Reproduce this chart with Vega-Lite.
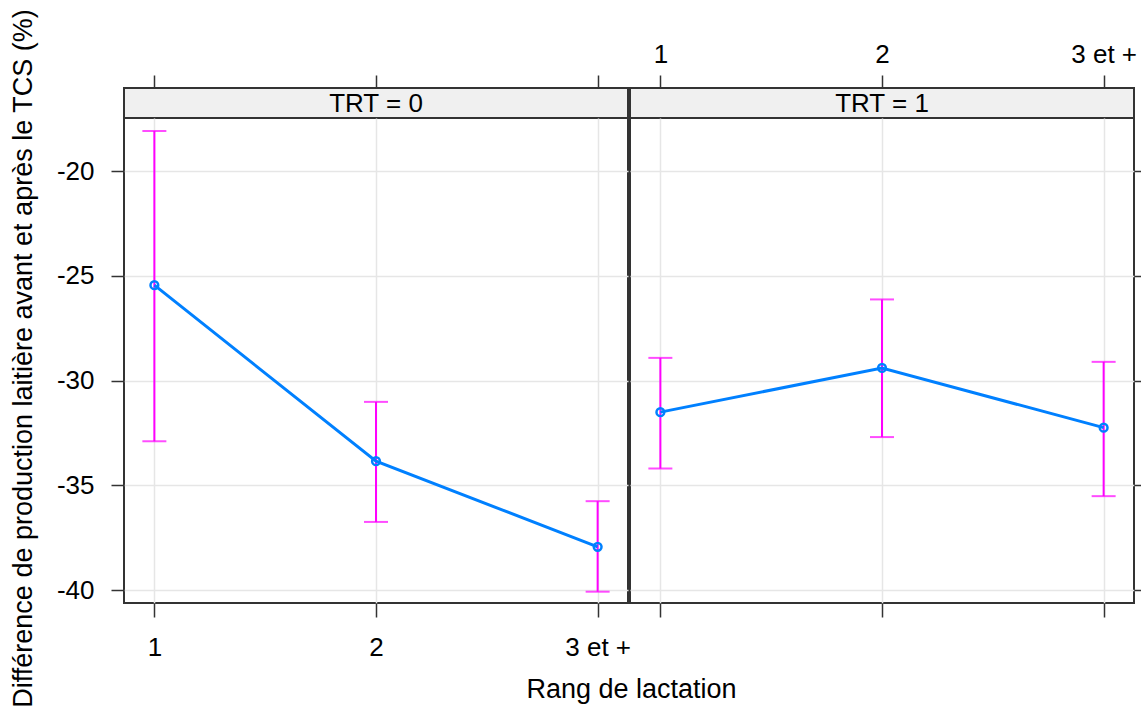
{
  "$schema": "https://vega.github.io/schema/vega-lite/v6.json",
  "background": "white",
  "padding": {"left": 8, "top": 7, "right": 0, "bottom": 0},
  "datasets": {
    "effets": [
      {"TRT": "0", "rang": "1", "fit": -25.45, "lower": -32.9, "upper": -18.09},
      {"TRT": "0", "rang": "2", "fit": -33.85, "lower": -36.75, "upper": -31.02},
      {"TRT": "0", "rang": "3 et +", "fit": -37.94, "lower": -40.08, "upper": -35.76},
      {"TRT": "1", "rang": "1", "fit": -31.51, "lower": -34.2, "upper": -28.92},
      {"TRT": "1", "rang": "2", "fit": -29.4, "lower": -32.7, "upper": -26.13},
      {"TRT": "1", "rang": "3 et +", "fit": -32.25, "lower": -35.52, "upper": -29.11}
    ],
    "strips": [
      {"TRT": "0", "label": "TRT = 0"},
      {"TRT": "1", "label": "TRT = 1"}
    ]
  },
  "config": {
    "font": "Liberation Sans",
    "view": {"stroke": null},
    "axis": {
      "labelFont": "Liberation Sans",
      "labelFontSize": 26,
      "labelColor": "#000000",
      "tickColor": "#333333",
      "tickWidth": 1.5,
      "gridColor": "#e6e6e6",
      "gridWidth": 1.5,
      "domain": false,
      "titleFont": "Liberation Sans",
      "titleFontSize": 27,
      "titleFontWeight": "normal",
      "titleColor": "#000000"
    }
  },
  "columns": 2,
  "spacing": {"row": 0, "column": 2},
  "bounds": "flush",
  "concat": [
    {
      "width": 504,
      "height": 30,
      "view": {"fill": "#f0f0f0", "stroke": "#333333", "strokeWidth": 2},
      "layer": [
        {
          "data": {"name": "strips"},
          "transform": [{"filter": "datum.TRT == '0'"}],
          "mark": {"type": "text", "fontSize": 26, "font": "Liberation Sans", "color": "#000000", "baseline": "middle", "dy": 1},
          "encoding": {"text": {"field": "label", "type": "nominal"}}
        },
        {
          "data": {"name": "effets"},
          "transform": [{"filter": "datum.TRT == '0'"}],
          "mark": {"type": "point", "opacity": 0},
          "encoding": {
            "x": {
              "field": "rang", "type": "ordinal",
              "scale": {"type": "point", "domain": ["1", "2", "3 et +"], "padding": 0.137},
              "axis": {"orient": "top", "labels": false, "title": null, "tickSize": 13, "grid": false}
            }
          }
        }
      ]
    },
    {
      "width": 504,
      "height": 30,
      "view": {"fill": "#f0f0f0", "stroke": "#333333", "strokeWidth": 2},
      "layer": [
        {
          "data": {"name": "strips"},
          "transform": [{"filter": "datum.TRT == '1'"}],
          "mark": {"type": "text", "fontSize": 26, "font": "Liberation Sans", "color": "#000000", "baseline": "middle", "dy": 1},
          "encoding": {"text": {"field": "label", "type": "nominal"}}
        },
        {
          "data": {"name": "effets"},
          "transform": [{"filter": "datum.TRT == '1'"}],
          "mark": {"type": "point", "opacity": 0},
          "encoding": {
            "x": {
              "field": "rang", "type": "ordinal",
              "scale": {"type": "point", "domain": ["1", "2", "3 et +"], "padding": 0.137},
              "axis": {"orient": "top", "labels": true, "labelAngle": 0, "labelPadding": 8, "title": null, "tickSize": 13, "grid": false}
            }
          }
        }
      ]
    },
    {
      "width": 504,
      "height": 485,
      "data": {"name": "effets"},
      "transform": [{"filter": "datum.TRT == '0'"}],
      "view": {"stroke": "#333333", "strokeWidth": 2},
      "encoding": {
        "x": {
          "field": "rang", "type": "ordinal",
          "scale": {"type": "point", "domain": ["1", "2", "3 et +"], "padding": 0.137},
          "axis": {"orient": "bottom", "labelAngle": 0, "tickSize": 14, "labelPadding": 17, "grid": true, "title": "Rang de lactation", "titleX": 507, "titlePadding": 16}
        }
      },
      "layer": [
        {
          "mark": {"type": "rule", "color": "#ff00ff", "strokeWidth": 2},
          "encoding": {
            "y": {
              "field": "lower", "type": "quantitative",
              "scale": {"domain": [-40.62, -17.47], "nice": false, "zero": false},
              "axis": {"orient": "left", "values": [-40, -35, -30, -25, -20], "labelExpr": "replace(datum.label, '\u2212', '-')", "tickSize": 13, "labelPadding": 17, "grid": true, "title": "Différence de production laitière avant et après le TCS (%)", "titlePadding": 19, "titleY": 240}
            },
            "y2": {"field": "upper"}
          }
        },
        {
          "mark": {"type": "tick", "color": "#ff00ff", "thickness": 2, "size": 24, "orient": "horizontal"},
          "encoding": {"y": {"field": "lower", "type": "quantitative"}}
        },
        {
          "mark": {"type": "tick", "color": "#ff00ff", "thickness": 2, "size": 24, "orient": "horizontal"},
          "encoding": {"y": {"field": "upper", "type": "quantitative"}}
        },
        {
          "mark": {"type": "line", "color": "#0080ff", "strokeWidth": 3},
          "encoding": {"y": {"field": "fit", "type": "quantitative"}}
        },
        {
          "mark": {"type": "point", "shape": "circle", "filled": false, "color": "#0080ff", "strokeWidth": 2.5, "size": 60, "opacity": 1},
          "encoding": {"y": {"field": "fit", "type": "quantitative"}}
        }
      ]
    },
    {
      "width": 504,
      "height": 485,
      "data": {"name": "effets"},
      "transform": [{"filter": "datum.TRT == '1'"}],
      "view": {"stroke": "#333333", "strokeWidth": 2},
      "encoding": {
        "x": {
          "field": "rang", "type": "ordinal",
          "scale": {"type": "point", "domain": ["1", "2", "3 et +"], "padding": 0.137},
          "axis": {"orient": "bottom", "labels": false, "tickSize": 14, "grid": true, "title": null}
        }
      },
      "layer": [
        {
          "mark": {"type": "rule", "color": "#ff00ff", "strokeWidth": 2},
          "encoding": {
            "y": {
              "field": "lower", "type": "quantitative",
              "scale": {"domain": [-40.62, -17.47], "nice": false, "zero": false},
              "axis": {"orient": "right", "values": [-40, -35, -30, -25, -20], "labels": false, "tickSize": 9, "grid": true, "title": null}
            },
            "y2": {"field": "upper"}
          }
        },
        {
          "mark": {"type": "tick", "color": "#ff00ff", "thickness": 2, "size": 24, "orient": "horizontal"},
          "encoding": {"y": {"field": "lower", "type": "quantitative"}}
        },
        {
          "mark": {"type": "tick", "color": "#ff00ff", "thickness": 2, "size": 24, "orient": "horizontal"},
          "encoding": {"y": {"field": "upper", "type": "quantitative"}}
        },
        {
          "mark": {"type": "line", "color": "#0080ff", "strokeWidth": 3},
          "encoding": {"y": {"field": "fit", "type": "quantitative"}}
        },
        {
          "mark": {"type": "point", "shape": "circle", "filled": false, "color": "#0080ff", "strokeWidth": 2.5, "size": 60, "opacity": 1},
          "encoding": {"y": {"field": "fit", "type": "quantitative"}}
        }
      ]
    }
  ]
}
